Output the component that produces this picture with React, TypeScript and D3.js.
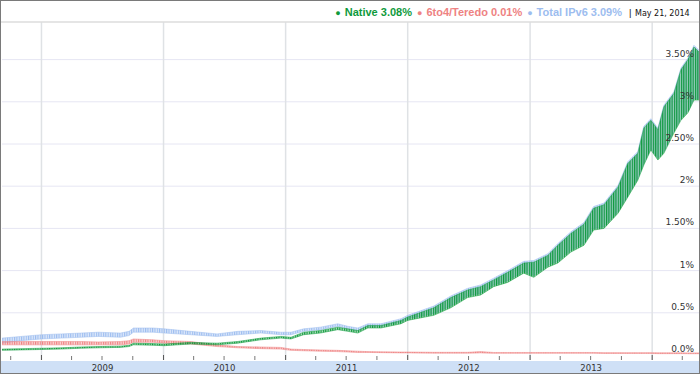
import React, { useEffect, useRef } from "react";
import * as d3 from "d3";

// sample dates, shared by the three series
const dates = [
  "2008-09-05", "2008-11-01", "2009-01-01", "2009-03-01", "2009-04-28", "2009-06-20",
  "2009-08-25", "2009-09-20", "2009-10-03", "2009-12-01", "2010-01-03", "2010-03-23",
  "2010-06-10", "2010-08-11", "2010-10-19", "2010-12-18", "2011-01-17", "2011-02-24",
  "2011-04-15", "2011-06-06", "2011-07-06", "2011-08-05", "2011-09-04", "2011-10-13",
  "2011-12-12", "2012-01-01", "2012-03-19", "2012-05-09", "2012-06-28", "2012-08-06",
  "2012-09-14", "2012-10-26", "2012-12-13", "2013-01-12", "2013-02-23", "2013-03-25",
  "2013-05-03", "2013-06-11", "2013-07-10", "2013-08-10", "2013-09-21", "2013-10-20",
  "2013-11-19", "2013-12-07", "2013-12-28", "2014-01-18", "2014-02-05", "2014-03-07",
  "2014-03-28", "2014-04-18", "2014-05-06", "2014-05-21",
];

// weekly low / high of each series, in percent
const nativeLo = [
  0.055, 0.06, 0.065, 0.07, 0.08, 0.085, 0.09, 0.1, 0.12, 0.115, 0.11, 0.13, 0.12, 0.14,
  0.18, 0.2, 0.19, 0.24, 0.26, 0.3, 0.28, 0.26, 0.32, 0.32, 0.37, 0.41, 0.47, 0.56, 0.68,
  0.71, 0.81, 0.86, 0.97, 0.92, 1.04, 1.09, 1.22, 1.3, 1.48, 1.5, 1.68, 1.87, 2.07, 2.25,
  2.43, 2.31, 2.39, 2.63, 2.78, 2.87, 3.02, 3.02,
];
const nativeHi = [
  0.07, 0.075, 0.08, 0.085, 0.095, 0.1, 0.105, 0.115, 0.14, 0.135, 0.13, 0.15, 0.14, 0.16,
  0.2, 0.22, 0.21, 0.27, 0.29, 0.33, 0.31, 0.29, 0.35, 0.35, 0.41, 0.45, 0.56, 0.68, 0.77,
  0.81, 0.89, 0.98, 1.09, 1.1, 1.18, 1.3, 1.44, 1.55, 1.74, 1.78, 1.99, 2.27, 2.39, 2.69,
  2.78, 2.67, 2.94, 3.1, 3.38, 3.5, 3.65, 3.59,
];
const teredoLo = [
  0.12, 0.12, 0.12, 0.12, 0.12, 0.12, 0.12, 0.13, 0.15, 0.15, 0.14, 0.13, 0.1, 0.085,
  0.075, 0.07, 0.055, 0.05, 0.045, 0.04, 0.035, 0.03, 0.03, 0.028, 0.025, 0.025, 0.022,
  0.022, 0.022, 0.025, 0.02, 0.02, 0.02, 0.02, 0.02, 0.02, 0.02, 0.02, 0.02, 0.018, 0.018,
  0.018, 0.018, 0.018, 0.018, 0.016, 0.016, 0.016, 0.016, 0.015, 0.015, 0.015,
];
const teredoHi = [
  0.16, 0.16, 0.16, 0.16, 0.16, 0.155, 0.16, 0.17, 0.19, 0.18, 0.17, 0.16, 0.12, 0.1,
  0.095, 0.09, 0.07, 0.065, 0.06, 0.055, 0.05, 0.045, 0.04, 0.038, 0.035, 0.035, 0.032,
  0.032, 0.032, 0.04, 0.03, 0.03, 0.03, 0.03, 0.03, 0.03, 0.03, 0.03, 0.03, 0.028, 0.028,
  0.028, 0.028, 0.028, 0.028, 0.026, 0.026, 0.026, 0.026, 0.025, 0.025, 0.025,
];
const totalLo = [
  0.14, 0.17, 0.19, 0.2, 0.21, 0.22, 0.21, 0.23, 0.27, 0.27, 0.26, 0.24, 0.22, 0.24, 0.26,
  0.24, 0.24, 0.28, 0.3, 0.34, 0.31, 0.29, 0.34, 0.34, 0.39, 0.43, 0.49, 0.58, 0.7, 0.73,
  0.83, 0.88, 0.99, 0.94, 1.06, 1.11, 1.24, 1.32, 1.5, 1.52, 1.7, 1.89, 2.09, 2.27, 2.45,
  2.33, 2.41, 2.65, 2.8, 2.89, 3.04, 3.04,
];
const totalHi = [
  0.2, 0.22, 0.24, 0.25, 0.26, 0.27, 0.26, 0.28, 0.32, 0.32, 0.31, 0.28, 0.25, 0.28, 0.29,
  0.27, 0.27, 0.31, 0.33, 0.37, 0.34, 0.32, 0.37, 0.37, 0.43, 0.47, 0.58, 0.7, 0.79, 0.83,
  0.91, 1.0, 1.11, 1.12, 1.2, 1.32, 1.46, 1.57, 1.76, 1.8, 2.01, 2.29, 2.41, 2.71, 2.8,
  2.69, 2.96, 3.12, 3.4, 3.52, 3.67, 3.61,
];

const yTicks = [0, 0.5, 1, 1.5, 2, 2.5, 3, 3.5];
const yTickLabels = ["0.0%", "0.5%", "1%", "1.50%", "2%", "2.50%", "3%", "3.50%"];
const years = [2009, 2010, 2011, 2012, 2013];

const legend = [
  { name: "Native", value: "3.08%", color: "#0f9a3c" },
  { name: "6to4/Teredo", value: "0.01%", color: "#ee8282" },
  { name: "Total IPv6", value: "3.09%", color: "#9dbdef" },
];
const dateLabel = "May 21, 2014";

const App = () => {
  const ref = useRef<SVGSVGElement>(null);

  useEffect(() => {
    const width = 700;
    const height = 374;
    const svg = d3.select(ref.current);
    svg.selectAll("*").remove();
    svg.attr("width", width).attr("height", height);

    const parse = d3.timeParse("%Y-%m-%d");
    const x = d3.scaleTime()
      .domain([parse("2008-09-05")!, parse("2014-05-21")!])
      .range([2, 699]);
    const y = d3.scaleLinear().domain([0, 3.5]).range([355, 59.6]);

    svg.append("rect").attr("width", width).attr("height", height).attr("fill", "#fff");

    const defs = svg.append("defs");
    defs.append("clipPath").attr("id", "plot")
      .append("rect").attr("x", 2).attr("y", 23).attr("width", 697).attr("height", 337);

    // horizontal grid
    svg.append("g").selectAll("line")
      .data(yTicks.slice(1))
      .enter().append("line")
      .attr("x1", 2).attr("x2", 699)
      .attr("y1", d => y(d)).attr("y2", d => y(d))
      .attr("stroke", "#e6e6f3").attr("stroke-width", 1);

    // vertical year grid
    const yearStarts = d3.timeYear.range(x.domain()[0], x.domain()[1]);
    svg.append("g").selectAll("line")
      .data(yearStarts)
      .enter().append("line")
      .attr("x1", d => x(d)).attr("x2", d => x(d))
      .attr("y1", 22).attr("y2", 360)
      .attr("stroke", "#dfe2e5").attr("stroke-width", 1.5);

    // series: weekly swing drawn as a hatched band between low and high
    const series = [
      { lo: totalLo, hi: totalHi, color: legend[2].color, id: "hTotal" },
      { lo: teredoLo, hi: teredoHi, color: legend[1].color, id: "hTeredo" },
      { lo: nativeLo, hi: nativeHi, color: legend[0].color, id: "hNative" },
    ];
    const plot = svg.append("g").attr("clip-path", "url(#plot)");
    series.forEach(s => {
      const pat = defs.append("pattern").attr("id", s.id)
        .attr("patternUnits", "userSpaceOnUse")
        .attr("width", 2.34).attr("height", 10);
      pat.append("rect").attr("width", 2.34).attr("height", 10).attr("fill", s.color).attr("opacity", 0.35);
      pat.append("rect").attr("width", 1.1).attr("height", 10).attr("fill", s.color);

      const rows = dates.map((d, i) => ({ date: parse(d)!, lo: s.lo[i], hi: s.hi[i] }));
      const area = d3.area<any>()
        .x(d => x(d.date)).y0(d => y(d.lo)).y1(d => y(d.hi));
      plot.append("path").datum(rows)
        .attr("d", area).attr("fill", `url(#${s.id})`);
      const lineHi = d3.line<any>().x(d => x(d.date)).y(d => y(d.hi));
      const lineLo = d3.line<any>().x(d => x(d.date)).y(d => y(d.lo));
      plot.append("path").datum(rows).attr("d", lineHi)
        .attr("fill", "none").attr("stroke", s.color).attr("stroke-width", 0.5);
      plot.append("path").datum(rows).attr("d", lineLo)
        .attr("fill", "none").attr("stroke", s.color).attr("stroke-width", 0.5);
    });

    // y labels, right side
    svg.append("g").selectAll("text")
      .data(yTicks)
      .enter().append("text")
      .attr("x", 694).attr("y", d => y(d) - 3)
      .attr("text-anchor", "end")
      .attr("font-family", "DejaVu Sans, Verdana, sans-serif")
      .attr("font-size", "9px")
      .attr("fill", "#333")
      .text((d, i) => yTickLabels[i]);

    // x axis band
    svg.append("rect").attr("x", 1).attr("y", 361).attr("width", 698).attr("height", 13).attr("fill", "#cfe0f6");
    const quarters = d3.timeMonth.every(3)!.range(x.domain()[0], x.domain()[1]);
    svg.append("g").selectAll("line")
      .data(quarters)
      .enter().append("line")
      .attr("x1", d => x(d)).attr("x2", d => x(d))
      .attr("y1", d => (d.getMonth() === 0 ? 355 : 356)).attr("y2", 360)
      .attr("stroke", d => (d.getMonth() === 0 ? "#555" : "#777"))
      .attr("stroke-width", 1);
    svg.append("g").selectAll("text")
      .data(years)
      .enter().append("text")
      .attr("x", d => (x(new Date(d, 0, 1)) + x(new Date(d + 1, 0, 1))) / 2)
      .attr("y", 370.5)
      .attr("text-anchor", "middle")
      .attr("font-family", "DejaVu Sans, Verdana, sans-serif")
      .attr("font-size", "8.5px")
      .attr("fill", "#333")
      .text(d => d);

    // header
    svg.append("line").attr("x1", 1).attr("x2", 699).attr("y1", 22).attr("y2", 22)
      .attr("stroke", "#dcdcdc").attr("stroke-width", 1.5);
    const head = svg.append("text")
      .attr("x", 622).attr("y", 16)
      .attr("text-anchor", "end")
      .attr("font-family", "Liberation Sans, Arial, sans-serif")
      .attr("font-size", "11px")
      .attr("font-weight", "bold");
    legend.forEach((l, i) => {
      head.append("tspan").attr("fill", l.color).attr("font-size", "9px")
        .attr("dx", i === 0 ? 0 : 5).text("\u25CF");
      head.append("tspan").attr("fill", l.color).attr("dx", 4).text(`${l.name} ${l.value}`);
    });
    svg.append("text").attr("x", 629).attr("y", 16)
      .attr("font-family", "Liberation Sans, Arial, sans-serif")
      .attr("font-size", "9.5px").attr("fill", "#111")
      .text("|");
    svg.append("text").attr("x", 635).attr("y", 16)
      .attr("font-family", "DejaVu Sans, Verdana, sans-serif")
      .attr("font-size", "8px").attr("fill", "#111")
      .text(dateLabel);

    // outer frame
    svg.append("rect").attr("x", 0.5).attr("y", 0.5).attr("width", 699).attr("height", 373)
      .attr("fill", "none").attr("stroke", "#7a7a7a").attr("stroke-width", 1);
  }, []);

  return <svg ref={ref} style={{ position: "absolute", left: 0, top: 0 }}></svg>;
};

export default App;
